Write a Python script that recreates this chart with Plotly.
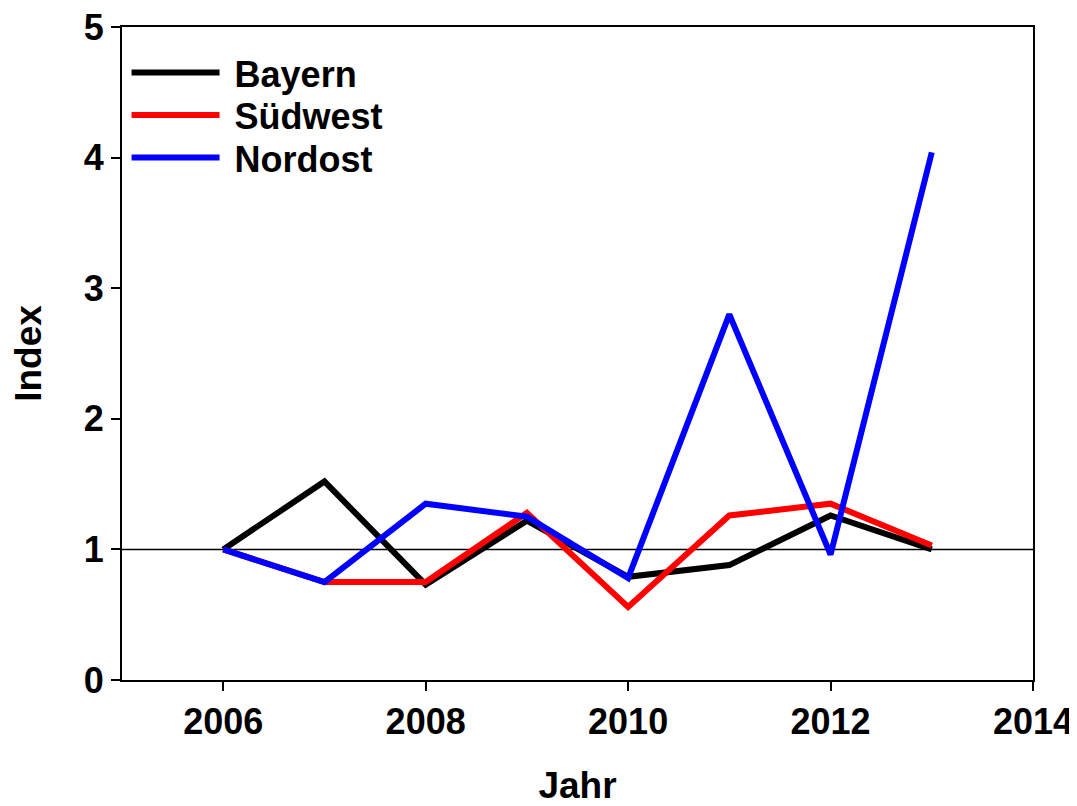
import plotly.graph_objects as go

years = [2006, 2007, 2008, 2009, 2010, 2011, 2012, 2013]
bayern = [1.00, 1.52, 0.73, 1.22, 0.79, 0.88, 1.26, 1.00]
suedwest = [1.00, 0.75, 0.75, 1.28, 0.56, 1.26, 1.35, 1.03]
nordost = [1.00, 0.75, 1.35, 1.25, 0.78, 2.80, 0.96, 4.04]

series_names = ["Bayern", "Südwest", "Nordost"]
series_colors = ["#000000", "#ff0000", "#0000ff"]
x_ticks = [2006, 2008, 2010, 2012, 2014]
y_ticks = [0, 1, 2, 3, 4, 5]

FONT = "Liberation Sans, Arial, sans-serif"
legend_ids = ["legend", "legend2", "legend3"]
legend_y = [0.930, 0.865, 0.800]

fig = go.Figure()
for name, vals, col, lid in zip(series_names, [bayern, suedwest, nordost], series_colors, legend_ids):
    fig.add_trace(go.Scatter(x=years, y=vals, mode="lines", name=f"\u00a0<b>{name}</b>",
                             line=dict(color=col, width=6), legend=lid))

fig.add_shape(type="line", xref="paper", yref="y", x0=0, x1=1, y0=1, y1=1,
              line=dict(color="black", width=1.5), layer="below")

axis_common = dict(showline=True, linecolor="black", linewidth=2, mirror=True,
                   ticks="outside", ticklen=9, tickwidth=1.5, tickcolor="black",
                   showgrid=False, zeroline=False, automargin=False,
                   ticklabeloverflow="allow",
                   tickfont=dict(family=FONT, size=36, color="black"))

legend_common = dict(x=0.005, xanchor="left", yanchor="middle",
                     font=dict(family=FONT, size=36, color="black"),
                     bgcolor="rgba(0,0,0,0)", itemwidth=88)

layout_legends = {lid: dict(y=ly, **legend_common) for lid, ly in zip(legend_ids, legend_y)}

fig.update_layout(
    width=1077, height=806,
    margin=dict(l=114, r=52, t=19, b=134),
    paper_bgcolor="white", plot_bgcolor="white",
    font=dict(family=FONT, color="black"),
    xaxis=dict(range=[2005, 2014], tickvals=x_ticks,
               ticktext=[f"<b>{t}</b>" for t in x_ticks],
               title=dict(text="<b>Jahr</b>", font=dict(family=FONT, size=37), standoff=31),
               **axis_common),
    yaxis=dict(range=[0, 5], tickvals=y_ticks,
               ticktext=[f"<b>{t}</b>" for t in y_ticks],
               title=dict(text="<b>Index</b>", font=dict(family=FONT, size=37), standoff=38),
               **axis_common),
    showlegend=True,
    **layout_legends,
)

fig.write_html("out.html")
